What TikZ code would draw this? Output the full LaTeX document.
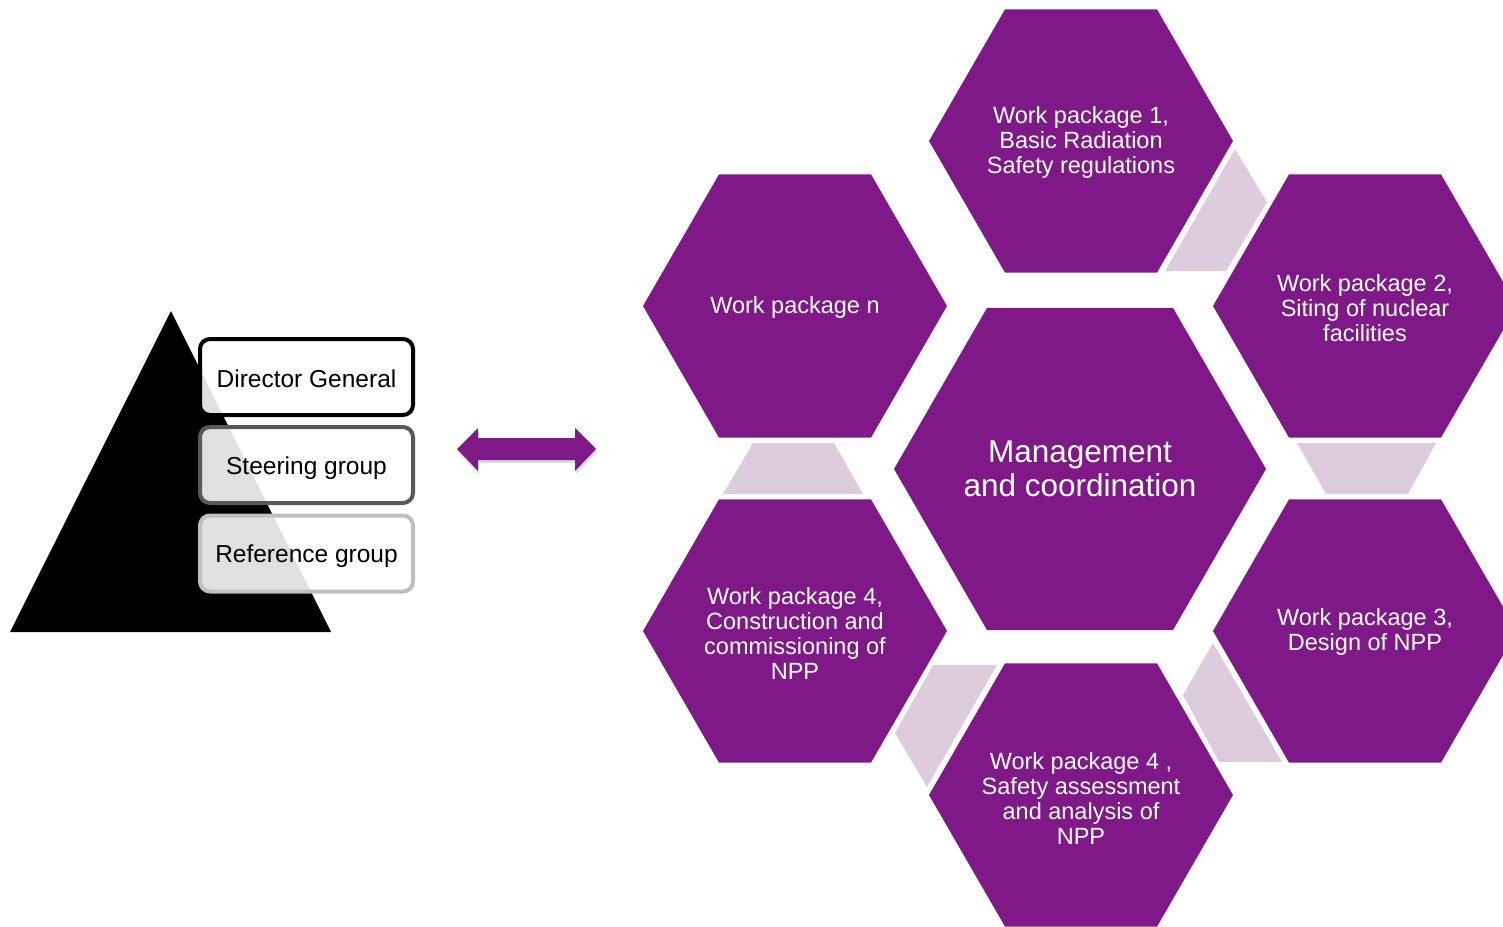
\documentclass[tikz,border=0pt]{standalone}
\usepackage{fontspec}
\setmainfont{Liberation Sans}
\usetikzlibrary{shadows}
\definecolor{hexpurple}{RGB}{126,25,135}
\definecolor{linkpurple}{RGB}{220,204,220}
\definecolor{steergray}{RGB}{89,89,89}
\definecolor{refgray}{RGB}{191,191,191}
% flat-topped hexagon: centre x, centre y, circumradius
\newcommand{\hexfill}[3]{%
  \fill[hexpurple] ([shift={(0:#3)}]#1,#2) -- ([shift={(60:#3)}]#1,#2)
    -- ([shift={(120:#3)}]#1,#2) -- ([shift={(180:#3)}]#1,#2)
    -- ([shift={(240:#3)}]#1,#2) -- ([shift={(300:#3)}]#1,#2) -- cycle;}
\begin{document}
\begin{tikzpicture}[x=1pt,y=-1pt,
  hexbig/.style={text=white, align=center, inner sep=0pt, font=\fontsize{31.5}{34}\selectfont},
  hexsmall/.style={text=white, align=center, inner sep=0pt, font=\fontsize{23.5}{25}\selectfont},
  linkshape/.style={fill=linkpurple},
  orgbox/.style={draw, line width=4pt, rounded corners=10pt, fill=white,
    fill opacity=0.88, text opacity=1, text=black, minimum width=213pt,
    minimum height=76pt, inner sep=0pt, font=\fontsize{24.5}{26}\selectfont},
  orglabel/.style={text=black, inner sep=0pt, font=\fontsize{24.5}{26}\selectfont},
  bigarrow/.style={fill=hexpurple, drop shadow={opacity=0.3, shadow xshift=1pt, shadow yshift=-3pt}}
  ]
\clip (0,0) rectangle (1503,926);
% pyramid
\fill[black] (171,311) -- (331,632) -- (10,632) -- cycle;
\node[orgbox, draw=black] (dg) at (306.5,377) {};
\node[orgbox, draw=steergray] (sg) at (306.5,465) {};
\node[orgbox, draw=refgray] (rg) at (306.5,553.5) {};
\node[orglabel] (dgt) at ([yshift=-2pt]dg.center) {Director General};
\node[orglabel] (sgt) at ([yshift=-3pt]sg.center) {Steering group};
\node[orglabel] (rgt) at ([yshift=-3pt]rg.center) {Reference group};
% double arrow
\path[bigarrow] (457,449) -- (478,428) -- (478,438) -- (575,438) -- (575,428)
  -- (596,449) -- (575,471) -- (575,460) -- (478,460) -- (478,471) -- cycle;
% hexagons
\hexfill{1080}{469}{186}
\hexfill{1081}{141}{152}
\hexfill{795}{306}{152}
\hexfill{1365}{306}{152}
\hexfill{1365}{631}{152}
\hexfill{795}{631}{152}
\hexfill{1081}{795}{152}
\node[hexbig] (mc) at (1080,469) {Management\\and coordination};
\node[hexsmall] (wp1) at (1081,142) {Work package 1,\\Basic Radiation\\Safety regulations};
\node[hexsmall] (wpn) at (795,307) {Work package n};
\node[hexsmall] (wp2) at (1365,308) {Work package 2,\\Siting of nuclear\\facilities};
\node[hexsmall] (wp3) at (1365,632) {Work package 3,\\Design of NPP};
\node[hexsmall] (wp4) at (795,633) {Work package 4,\\Construction and\\commissioning of\\NPP};
\node[hexsmall] (wps) at (1081,798) {Work package 4 ,\\Safety assessment\\and analysis of\\NPP};
% links between hexagons
\fill[linkshape] (1235,149) -- (1267,202) -- (1226,271) -- (1165,271) -- cycle;
\fill[linkshape] (1297,443) -- (1436,443) -- (1408,494) -- (1326,494) -- cycle;
\fill[linkshape] (1213,643) -- (1183,695) -- (1219,762) -- (1282,762) -- cycle;
\fill[linkshape] (933,665) -- (997,665) -- (927,787) -- (895,733) -- cycle;
\fill[linkshape] (753,443) -- (834,443) -- (863,494) -- (723,494) -- cycle;
\end{tikzpicture}
\end{document}
